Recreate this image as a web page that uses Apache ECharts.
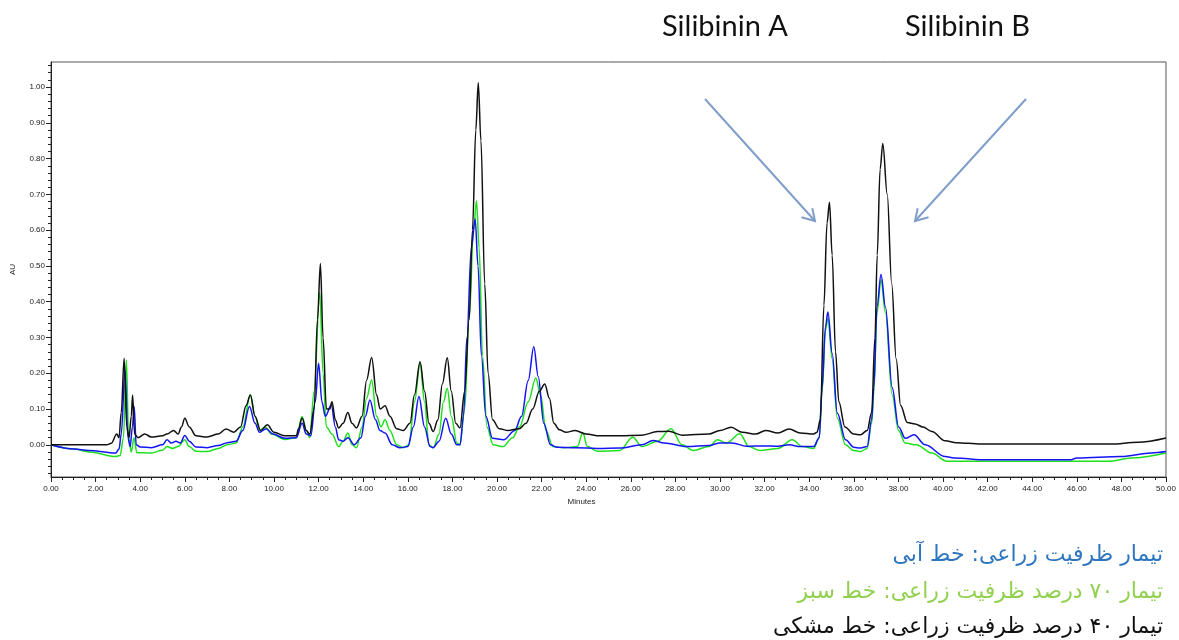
<!DOCTYPE html>
<html><head><meta charset="utf-8">
<script src="https://cdn.jsdelivr.net/npm/echarts@6/dist/echarts.min.js"></script>
<style>html,body{margin:0;padding:0;background:#fff}#c{width:1179px;height:640px}</style>
</head><body><div id="c"></div>
<script>
// ---- tick labels ----
const yTickValues = [0, 0.1, 0.2, 0.3, 0.4, 0.5, 0.6, 0.7, 0.8, 0.9, 1.0];
const yMinorTickValues = [-0.08,-0.06,-0.04,-0.02,0.02,0.04,0.06,0.08,0.12,0.14,0.16,0.18,0.22,0.24,0.26,0.28,0.32,0.34,0.36,0.38,0.42,0.44,0.46,0.48,0.52,0.54,0.56,0.58,0.62,0.64,0.66,0.68,0.72,0.74,0.76,0.78,0.82,0.84,0.86,0.88,0.92,0.94,0.96,0.98,1.02,1.04,1.06];
const peakLabels = ['Silibinin A', 'Silibinin B'];
const legendTexts = ['تیمار ظرفیت زراعی: خط آبی', 'تیمار ۷۰ درصد ظرفیت زراعی: خط سبز', 'تیمار ۴۰ درصد ظرفیت زراعی: خط مشکی'];

// ---- black trace (40% field capacity) ----
const blackTimes = [0,2.5,2.7,2.95,3.05,3.15,3.28,3.4,3.5,3.6,3.66,3.75,3.9,4.2,4.5,5.0,5.2,5.5,5.7,5.85,6.0,6.2,6.5,7.0,7.5,7.85,8.2,8.5,8.75,8.94,9.15,9.4,9.7,10.0,10.5,11.0,11.1,11.26,11.45,11.6,11.8,11.95,12.08,12.2,12.35,12.5,12.6,12.75,12.9,13.1,13.31,13.5,13.7,13.95,14.15,14.38,14.6,14.76,14.98,15.2,15.5,15.8,16.1,16.3,16.55,16.75,16.95,17.14,17.35,17.55,17.77,17.95,18.15,18.34,18.55,18.75,18.9,19.05,19.16,19.28,19.45,19.6,19.8,20.1,20.5,21.0,21.3,21.6,21.9,22.14,22.35,22.55,22.8,23.1,23.5,24.0,24.6,25.5,26.5,27.2,27.7,28.3,29.5,30.0,30.5,31.0,31.6,32.05,32.6,33.1,33.6,34.2,34.35,34.5,34.66,34.8,34.91,35.03,35.18,35.33,35.6,36.0,36.3,36.6,36.8,36.95,37.05,37.18,37.3,37.5,37.7,37.9,38.1,38.4,38.75,39.1,39.5,40.1,40.6,41.7,47.5,48.75,50];
const blackAU = [0,0,0.004,0.03,0.02,0.09,0.242,0.05,0.02,0.08,0.139,0.03,0.02,0.03,0.022,0.025,0.03,0.04,0.03,0.05,0.074,0.05,0.025,0.022,0.03,0.044,0.035,0.05,0.11,0.139,0.08,0.04,0.056,0.035,0.025,0.025,0.045,0.075,0.04,0.03,0.1,0.35,0.507,0.3,0.1,0.1,0.12,0.07,0.047,0.06,0.09,0.06,0.047,0.08,0.18,0.244,0.14,0.1,0.109,0.08,0.045,0.04,0.06,0.14,0.232,0.15,0.06,0.037,0.07,0.17,0.243,0.15,0.06,0.047,0.15,0.35,0.6,0.88,1.012,0.85,0.45,0.2,0.07,0.045,0.04,0.045,0.06,0.1,0.15,0.17,0.13,0.06,0.042,0.035,0.04,0.03,0.025,0.025,0.027,0.037,0.038,0.027,0.03,0.04,0.049,0.035,0.03,0.04,0.033,0.044,0.033,0.03,0.035,0.07,0.39,0.62,0.678,0.53,0.26,0.12,0.05,0.03,0.028,0.04,0.09,0.3,0.53,0.77,0.842,0.7,0.45,0.24,0.11,0.062,0.058,0.05,0.037,0.011,0.006,0.002,0.002,0.007,0.019];

// ---- blue trace (field capacity) ----
const blueTimes = [0,1.04,1.7,2.9,3.05,3.15,3.32,3.45,3.55,3.65,3.73,3.82,4.0,4.5,5.0,5.2,5.4,5.6,5.8,6.0,6.2,6.5,7.0,7.5,7.9,8.3,8.6,8.9,9.15,9.35,9.65,9.95,10.5,11.0,11.26,11.45,11.65,11.85,12.0,12.15,12.3,12.57,12.75,12.9,13.1,13.31,13.6,13.9,14.1,14.3,14.55,14.75,14.98,15.3,15.65,16.0,16.25,16.5,16.75,17.0,17.14,17.4,17.7,17.95,18.2,18.34,18.5,18.65,18.85,19.02,19.15,19.3,19.5,19.8,20.3,20.8,21.1,21.4,21.65,21.85,22.1,22.4,22.7,23.5,24.5,25.5,26.5,27.0,27.5,28.5,29.5,30.0,30.55,31.2,32.0,32.6,33.1,33.6,34.2,34.45,34.58,34.73,34.84,35.03,35.26,35.63,36.0,36.3,36.6,36.8,36.9,37.04,37.22,37.42,37.72,38.01,38.31,38.7,39.2,40.1,40.5,41.96,45.7,46.0,48.0,49.35,50];
const blueAU = [0,-0.012,-0.016,-0.023,-0.012,0.03,0.21,0.02,-0.005,0.05,0.107,0.0,-0.006,-0.008,0.0,0.014,0.005,0.01,0.005,0.026,0.01,-0.006,-0.008,-0.002,0.006,0.01,0.04,0.107,0.06,0.035,0.045,0.03,0.018,0.02,0.06,0.03,0.025,0.12,0.228,0.12,0.08,0.111,0.05,0.014,0.01,0.02,0.0,0.02,0.08,0.125,0.07,0.04,0.033,0.0,-0.008,-0.005,0.05,0.135,0.05,-0.005,-0.008,0.01,0.074,0.03,0.0,0.0,0.08,0.3,0.55,0.631,0.5,0.25,0.08,0.018,0.014,0.04,0.08,0.18,0.274,0.19,0.06,0.0,-0.007,-0.008,-0.01,-0.009,0.0,0.012,0.005,-0.005,-0.002,0.005,0.005,-0.004,-0.003,-0.004,0.0,-0.005,-0.005,0.02,0.16,0.33,0.371,0.256,0.089,0.014,-0.007,-0.009,-0.005,0.07,0.16,0.385,0.476,0.385,0.16,0.05,0.018,0.028,0.0,-0.033,-0.037,-0.042,-0.042,-0.037,-0.033,-0.023,-0.019];

// ---- green trace (70% field capacity) ----
const greenTimes = [0,1.04,1.7,2.9,3.1,3.25,3.38,3.48,3.6,3.72,3.85,4.5,5.0,5.2,5.45,5.7,6.0,6.2,6.5,7.0,7.5,7.9,8.3,8.6,8.94,9.15,9.35,9.6,9.9,10.5,11.0,11.26,11.45,11.6,11.8,12.05,12.2,12.35,12.6,12.9,13.1,13.31,13.5,13.7,13.95,14.15,14.38,14.6,14.8,14.98,15.2,15.5,15.8,16.05,16.3,16.55,16.75,16.95,17.14,17.4,17.6,17.77,17.95,18.2,18.34,18.55,18.75,18.95,19.08,19.2,19.35,19.55,19.83,20.27,20.7,21.02,21.4,21.74,21.95,22.2,22.5,23.0,23.6,23.85,24.05,24.5,25.5,26.09,26.5,27.2,27.8,28.3,28.8,29.5,29.89,30.3,30.89,31.3,31.8,32.6,33.24,33.7,34.2,34.45,34.58,34.73,34.84,35.03,35.26,35.63,36.0,36.3,36.6,36.8,36.9,37.04,37.22,37.42,37.72,38.01,38.3,38.8,39.5,40.17,47.4,48.45,50];
const greenAU = [0,-0.012,-0.02,-0.033,-0.03,0.02,0.237,0.02,-0.02,0.02,-0.022,-0.023,-0.015,-0.005,-0.01,-0.005,0.014,-0.005,-0.018,-0.019,-0.01,0.0,0.005,0.05,0.139,0.08,0.04,0.05,0.03,0.015,0.02,0.079,0.04,0.02,0.15,0.426,0.2,0.05,0.03,-0.005,0.01,0.033,0.0,-0.008,0.05,0.13,0.181,0.08,0.05,0.07,0.04,0.0,-0.008,0.0,0.12,0.228,0.12,0.0,-0.008,0.03,0.12,0.158,0.08,0.005,0.0,0.1,0.35,0.6,0.682,0.55,0.25,0.05,0.0,-0.005,0.02,0.051,0.12,0.187,0.14,0.04,-0.005,-0.008,-0.005,0.034,-0.005,-0.018,-0.016,0.021,-0.005,0.01,0.045,0.0,-0.016,-0.005,0.014,0.005,0.031,-0.005,-0.016,-0.01,0.014,-0.005,-0.01,0.02,0.15,0.32,0.353,0.24,0.075,0.0,-0.016,-0.019,-0.01,0.06,0.15,0.37,0.46,0.37,0.14,0.04,0.005,0.0,-0.023,-0.046,-0.046,-0.037,-0.023];

const zip = (ts, vs) => ts.map((t, i) => [t, vs[i]]);
const tickFont = {fontFamily: 'Liberation Sans', fontSize: 8, color: '#222'};

const chart = echarts.init(document.getElementById('c'), null, {renderer: 'canvas'});
const lineSeries = (name, color, ts, vs, z) => ({
  name, type: 'line', data: zip(ts, vs), showSymbol: false, smooth: 0.35, smoothMonotone: 'x',
  lineStyle: {color, width: 1.5}, z, animation: false
});

chart.setOption({
  backgroundColor: '#fff',
  animation: false,
  grid: {left: 51, top: 62, right: 11, bottom: 163, show: true, borderColor: '#555', borderWidth: 1, backgroundColor: 'transparent'},
  xAxis: {
    type: 'value', min: 0, max: 50, interval: 2,
    name: 'Minutes', nameLocation: 'middle', nameGap: 21,
    nameTextStyle: {fontFamily: 'Liberation Sans', fontSize: 8, color: '#222', padding: [0, 54, 0, 0]},
    axisLine: {show: true, onZero: false, lineStyle: {color: '#222', width: 1}},
    axisTick: {show: true, inside: false, length: 5, lineStyle: {color: '#222'}},
    minorTick: {show: true, splitNumber: 4, length: 3, lineStyle: {color: '#222'}},
    axisLabel: {...tickFont, margin: 8, formatter: v => v.toFixed(2)},
    splitLine: {show: false}
  },
  yAxis: [{
    type: 'value', min: -0.09, max: 1.07,
    name: 'AU', nameLocation: 'middle', nameGap: 34,
    nameTextStyle: {fontFamily: 'Liberation Sans', fontSize: 8, color: '#222'},
    axisLine: {show: true, onZero: false, lineStyle: {color: '#222', width: 1}},
    axisTick: {show: true, length: 5, customValues: yTickValues, lineStyle: {color: '#222'}},
    axisLabel: {...tickFont, margin: 6, customValues: yTickValues, formatter: v => v.toFixed(2)},
    splitLine: {show: false}
  }, {
    type: 'value', min: -0.09, max: 1.07, position: 'left',
    axisLine: {show: false},
    axisTick: {show: true, length: 3, customValues: yMinorTickValues, lineStyle: {color: '#222'}},
    axisLabel: {show: false},
    splitLine: {show: false}
  }],
  series: [
    lineSeries('green', '#1fe01f', greenTimes, greenAU, 2),
    lineSeries('blue', '#1414f5', blueTimes, blueAU, 3),
    lineSeries('black', '#111111', blackTimes, blackAU, 4)
  ],
  graphic: [
    {type: 'text', left: 662, top: 12, style: {text: peakLabels[0], font: '29px Lato', fill: '#111'}},
    {type: 'text', left: 905, top: 12, style: {text: peakLabels[1], font: '29px Lato', fill: '#111'}},
    {type: 'line', shape: {x1: 705, y1: 99, x2: 815, y2: 221}, style: {stroke: '#7f9fca', lineWidth: 2}},
    {type: 'polyline', shape: {points: [[801.5, 217.3], [815, 221], [812.3, 208.3]]}, style: {stroke: '#7f9fca', lineWidth: 2, fill: null}},
    {type: 'line', shape: {x1: 1026, y1: 99, x2: 915, y2: 221}, style: {stroke: '#7f9fca', lineWidth: 2}},
    {type: 'polyline', shape: {points: [[928.5, 217.3], [915, 221], [917.7, 208.3]]}, style: {stroke: '#7f9fca', lineWidth: 2, fill: null}},
    {type: 'text', right: 16, top: 544, style: {text: legendTexts[0], font: '22px "DejaVu Sans"', fill: '#2e75c0', align: 'right'}},
    {type: 'text', right: 16, top: 581, style: {text: legendTexts[1], font: '22px "DejaVu Sans"', fill: '#92d050', align: 'right'}},
    {type: 'text', right: 16, top: 616, style: {text: legendTexts[2], font: '22px "DejaVu Sans"', fill: '#111', align: 'right'}}
  ]
});
</script>
</body></html>
